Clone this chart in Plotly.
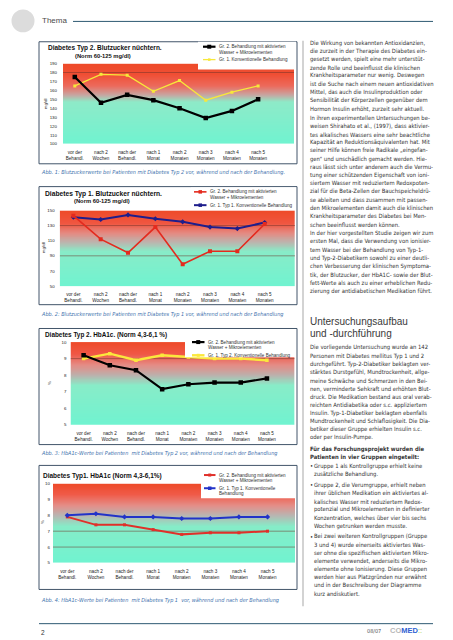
import plotly.graph_objects as go

W, H = 453, 640

# ---------------- data ----------------
categories = ["vor der<br>Behandl.", "nach 2<br>Wochen", "nach der<br>Behandl.", "nach 1<br>Monat",
              "nach 2<br>Monaten", "nach 3<br>Monaten", "nach 4<br>Monaten", "nach 5<br>Monaten"]

t2_bz_gr2 = [175, 146, 155, 149, 140, 129, 137, 150]
t2_bz_gr1 = [165, 178, 177, 159, 171, 149, 158, 165]
t1_bz_gr2 = [143, 112, 94, 128, 79, 96, 96, 132]
t1_bz_gr1 = [141, 138, 144, 139, 135, 128, 126, 134]
t2_hba_gr2 = [9.2, 8.6, 8.3, 7.15, 7.45, 7.55, 7.55, 7.8]
t2_hba_gr1 = [9.0, 9.3, 8.9, 9.2, 9.1, 9.0, 9.0, 8.9]
t1_hba_gr2 = [7.9, 7.4, 7.4, 7.1, 6.8, 6.9, 6.9, 7.0]
t1_hba_gr1 = [8.0, 8.1, 7.9, 7.9, 7.8, 7.8, 7.9, 7.9]

titles = ["Diabetes Typ 2. Blutzucker nüchtern.", "Diabetes Typ 1. Blutzucker nüchtern.",
          "Diabetes Typ 2. HbA1c. (Norm 4,3-6,1 %)", "Diabetes Typ1. HbA1c (Norm 4,3-6,1%)"]
captions = [
    "Abb. 1: Blutzuckerwerte bei Patienten mit Diabetes Typ 2 vor, während und nach der Behandlung.",
    "Abb. 2: Blutzuckerwerte bei Patienten mit Diabetes Typ 1 vor, während und nach der Behandlung",
    "Abb. 3: HbA1c-Werte bei Patienten  mit Diabetes Typ 2 vor, während und nach der Behandlung",
    "Abb. 4: HbA1c-Werte bei Patienten  mit Diabetes Typ 1  vor, während und nach der Behandlung",
]

P1 = ["Die Wirkung von bekannten Antioxidanzien,",
      "die zurzeit in der Therapie des Diabetes ein-",
      "gesetzt werden, spielt eine mehr unterstüt-",
      "zende Rolle und beeinflusst die klinischen",
      "Krankheitsparameter nur wenig. Deswegen",
      "ist die Suche nach einem neuen antioxidativen",
      "Mittel, das auch die Insulinproduktion oder",
      "Sensibilität der Körperzellen gegenüber dem",
      "Hormon Insulin erhöht, zurzeit sehr aktuell."]
P2 = ["In ihren experimentellen Untersuchungen be-",
      "weisen Shirahato et al., (1997), dass aktivier-",
      "tes alkalisches Wassers eine sehr beachtliche",
      "Kapazität an Reduktionsäquivalenten hat. Mit",
      "seiner Hilfe können freie Radikale „eingefan-",
      "gen“ und unschädlich gemacht werden. Hie-",
      "raus lässt sich unter anderem auch die Vermu-",
      "tung einer schützenden Eigenschaft von ioni-",
      "siertem Wasser mit reduziertem Redoxpoten-",
      "zial für die Beta-Zellen der Bauchspeicheldrü-",
      "se ableiten und dass zusammen mit passen-",
      "den Mikroelementen damit auch die klinischen",
      "Krankheitsparameter des Diabetes bei Men-",
      "schen beeinflusst werden können."]
P3 = ["In der hier vorgestellten Studie zeigen wir zum",
      "ersten Mal, dass die Verwendung von ionisier-",
      "tem Wasser bei der Behandlung von Typ-1-",
      "und Typ-2-Diabetikern sowohl zu einer deutli-",
      "chen Verbesserung der klinischen Symptoma-",
      "tik, der Blutzucker, der HbA1C- sowie der Blut-",
      "fett-Werte als auch zu einer erheblichen Redu-",
      "zierung der antidiabetischen Medikation führt."]
HEAD = ["Untersuchungsaufbau", "und -durchführung"]
P4 = ["Die vorliegende Untersuchung wurde an 142",
      "Personen mit Diabetes mellitus Typ 1 und 2",
      "durchgeführt. Typ-2-Diabetiker beklagten ver-",
      "stärktes Durstgefühl, Mundtrockenheit, allge-",
      "meine Schwäche und Schmerzen in den Bei-",
      "nen, verminderte Sehkraft und erhöhten Blut-",
      "druck. Die Medikation bestand aus oral verab-",
      "reichten Antidiabetika oder s.c. appliziertem",
      "Insulin. Typ-1-Diabetiker beklagten ebenfalls",
      "Mundtrockenheit und Schlaflosigkeit. Die Dia-",
      "betiker dieser Gruppe erhielten Insulin s.c.",
      "oder per Insulin-Pumpe."]
BOLD = ["Für das Forschungsprojekt wurden die", "Patienten in vier Gruppen eingeteilt:"]
B1 = ["Gruppe 1 als Kontrollgruppe erhielt keine", "zusätzliche Behandlung."]
B2 = ["Gruppe 2, die Verumgruppe, erhielt neben", "ihrer üblichen Medikation ein aktiviertes al-",
      "kalisches Wasser mit reduziertem Redox-", "potenzial und Mikroelementen in definierter",
      "Konzentration, welches über vier bis sechs", "Wochen getrunken werden musste."]
B3 = ["Bei zwei weiteren Kontrollgruppen (Gruppe", "3 und 4) wurde einerseits aktiviertes Was-",
      "ser ohne die spezifischen aktivierten Mikro-", "elemente verwendet, anderseits die Mikro-",
      "elemente ohne Ionisierung. Diese Gruppen", "werden hier aus Platzgründen nur erwähnt",
      "und in der Beschreibung der Diagramme", "kurz andiskutiert."]


# ---------------- helpers ----------------
def px(x):
    return x / W


def py(y):
    return 1 - y / H


TXT = "DejaVu Sans Condensed"
ARIAL = "Liberation Sans"
AQUA = '#70f3d0'
RED = '#ee4a28'

charts = [
    dict(box=(31, 32, 289, 155), plot=(55, 54, 286, 135), yr=(100, 190), dtick=10, xr=(-0.45, 8.37),
         series=[(t2_bz_gr1, '#f7e83a', 1.3, 'square', 3), (t2_bz_gr2, '#000000', 2.2, 'square', 4.5)],
         stops=[(190, RED), (178, '#f04e34'), (165, '#ec6a5c'), (155, '#c8a4a0'), (147, '#8eeac8'), (100, AQUA)],
         grid=[180], ytitle="mg/dl", ytpos=(37, 95), ystand=5, xstand=4,
         title=(38, 38, 6.5), sub=(94.5, 46.5),
         legbox=(190, 32, 288, 60),
         leg=[(37, '#000000', 2.2, 4, ["Gr. 2. Behandlung mit aktivierten", "Wasser + Mikroelementen"], 195, 209),
              (50, '#f7e83a', 1.3, 2.5, ["Gr. 1. Konventionelle Behandlung"], 195, 209)],
         cap=164),
    dict(box=(31, 178, 289, 297), plot=(51.7, 202, 287, 278.3), yr=(50, 150), dtick=20, xr=(-0.5, 8.11),
         series=[(t1_bz_gr1, '#1e1e8c', 2.0, 'diamond', 4), (t1_bz_gr2, '#e42a1e', 1.6, 'square', 4)],
         stops=[(150, RED), (133, '#f05640'), (120, '#e48a82'), (108, '#bcb4ae'), (96, '#88ecc8'), (50, AQUA)],
         grid=[130, 90], ytitle="mg/dl", ytpos=(35, 240), ystand=4, xstand=4,
         title=(35, 185, 6.7), sub=(93.5, 192.5),
         legbox=(183, 179, 288, 201),
         leg=[(183.3, '#e42a1e', 1.6, 3.5, ["Gr. 2. Behandlung mit aktivierten", "Wasser + Mikroelementen"], 186, 200),
              (196.7, '#1e1e8c', 2.0, 3.5, ["Gr. 1. Typ 1. Konventionelle Behandlung"], 186, 200)],
         cap=307),
    dict(box=(31, 321, 289, 438), plot=(62.5, 334.7, 286.7, 418), yr=(5, 10), dtick=1, xr=(-0.5, 8.06),
         series=[(t2_hba_gr1, '#fbe83c', 2.4, 'square', 3.5), (t2_hba_gr2, '#000000', 2.2, 'square', 4.5)],
         stops=[(10, RED), (9.3, '#f05644'), (8.6, '#e48c86'), (8.0, '#bcb0ac'), (7.4, '#88ecc8'), (5, AQUA)],
         grid=[9], ytitle="%", ytpos=(41, 376), ystand=3, xstand=5,
         title=(35, 327.5, 6.4), sub=None,
         legbox=(177, 322, 288, 350),
         leg=[(334.7, '#000000', 2.2, 4, ["Gr. 2. Behandlung mit aktivierten", "Wasser + Mikroelementen"], 184, 198),
              (348, '#fbe83c', 2.4, 3, ["Gr. 1. Typ 2. Konventionelle Behandlung"], 184, 198)],
         cap=447),
    dict(box=(31, 459, 289, 584), plot=(45, 477.3, 287, 557.3), yr=(5, 10), dtick=1, xr=(-0.5, 7.96),
         series=[(t1_hba_gr2, '#e0302a', 2.0, 'square', 3), (t1_hba_gr1, '#2233c8', 2.0, 'diamond', 4)],
         stops=[(10, RED), (9.3, '#f05a48'), (8.6, '#e48e88'), (8.0, '#bab4b0'), (7.3, '#86ecc8'), (5, AQUA)],
         grid=[7, 6], ytitle="%", ytpos=(35, 516), ystand=2, xstand=4,
         title=(33, 469.5, 6.5), sub=None,
         legbox=(193, 464, 288, 492),
         leg=[(468.7, '#e0302a', 2.0, 3, ["Gr. 2. Behandlung mit aktivierten", "Wasser + Mikroelementen"], 196, 209),
              (482, '#2233c8', 2.0, 3.5, ["Gr. 1. Typ 1. Konventionelle", "Behandlung"], 196, 209)],
         cap=595),
]

fig = go.Figure()
shapes = []
ann = []

for n, c in enumerate(charts, start=1):
    sfx = "" if n == 1 else str(n)
    l, t, r, b = c['plot']
    y0, y1 = c['yr']
    # smooth gradient background as a one-column heatmap
    N = 160
    edges = [y0 + (y1 - y0) * i / N for i in range(N + 1)]
    centers = [(edges[i] + edges[i + 1]) / 2 for i in range(N)]
    cs = [[(v - y0) / (y1 - y0), col] for v, col in sorted(c['stops'])]
    fig.add_trace(go.Heatmap(x=list(c['xr']), y=edges, z=[[v] for v in centers], zmin=y0, zmax=y1,
                             colorscale=cs, showscale=False, hoverinfo='skip', zsmooth=False,
                             xaxis='x' + sfx, yaxis='y' + sfx))
    for g in c['grid']:
        fig.add_trace(go.Scatter(x=list(c['xr']), y=[g, g], mode='lines',
                                 line=dict(color='rgba(110,50,40,0.5)', width=1),
                                 xaxis='x' + sfx, yaxis='y' + sfx, showlegend=False, hoverinfo='skip'))
    for vals, col, lw, sym, ms in c['series']:
        fig.add_trace(go.Scatter(x=list(range(len(categories))), y=vals, mode='lines+markers',
                                 line=dict(color=col, width=lw),
                                 marker=dict(symbol=sym, size=ms, color=col),
                                 xaxis='x' + sfx, yaxis='y' + sfx, showlegend=False, hoverinfo='skip'))
    fig.layout['xaxis' + sfx] = dict(domain=[px(l), px(r)], range=list(c['xr']), anchor='y' + sfx,
                                     tickvals=list(range(len(categories))), ticktext=categories,
                                     showgrid=False, zeroline=False, showline=False, ticks='',
                                     tickangle=0, ticklabelstandoff=int(c['xstand']),
                                     tickfont=dict(family=ARIAL, size=4.6, color='#222'), fixedrange=True)
    fig.layout['yaxis' + sfx] = dict(domain=[py(b), py(t)], range=list(c['yr']), anchor='x' + sfx,
                                     dtick=c['dtick'], tick0=c['yr'][0],
                                     showgrid=False, zeroline=False, showline=False, ticks='',
                                     ticklabelstandoff=int(c['ystand']),
                                     tickfont=dict(family=ARIAL, size=4.4, color='#222'), fixedrange=True)
    bx0, by0, bx1, by1 = c['box']
    shapes.append(dict(type='rect', xref='paper', yref='paper', x0=px(bx0), x1=px(bx1), y0=py(by1), y1=py(by0),
                       line=dict(color='#42556a', width=1), fillcolor='rgba(0,0,0,0)', layer='above'))
    lx0, ly0, lx1, ly1 = c['legbox']
    shapes.append(dict(type='rect', xref='paper', yref='paper', x0=px(lx0), x1=px(lx1), y0=py(ly1), y1=py(ly0),
                       line=dict(width=0), fillcolor='white', layer='above'))
    for ly, col, lw, ms, texts, sx0, tx in c['leg']:
        shapes.append(dict(type='line', xref='paper', yref='paper', x0=px(sx0), x1=px(tx - 1.5), y0=py(ly), y1=py(ly),
                           line=dict(color=col, width=lw), layer='above'))
        mx = (sx0 + tx - 1.5) / 2
        shapes.append(dict(type='rect', xref='paper', yref='paper', x0=px(mx - ms / 2), x1=px(mx + ms / 2),
                           y0=py(ly + ms / 2), y1=py(ly - ms / 2), fillcolor=col, line=dict(width=0), layer='above'))
        for k, tt in enumerate(texts):
            ann.append(dict(x=px(tx), y=py(ly + k * 5.4), xref='paper', yref='paper', text=tt, showarrow=False,
                            xanchor='left', yanchor='middle', font=dict(family=ARIAL, size=4.6, color='#333')))
    tx, ty, ts = c['title']
    ann.append(dict(x=px(tx), y=py(ty), xref='paper', yref='paper', text="<b>" + titles[n - 1] + "</b>",
                    showarrow=False, xanchor='left', yanchor='middle', font=dict(family=ARIAL, size=ts, color='#111')))
    if c['sub']:
        ann.append(dict(x=px(c['sub'][0]), y=py(c['sub'][1]), xref='paper', yref='paper',
                        text="<b>(Norm 60-125 mg/dl)</b>", showarrow=False, xanchor='center', yanchor='middle',
                        font=dict(family=ARIAL, size=5.8, color='#111')))
    ann.append(dict(x=px(c['ytpos'][0]), y=py(c['ytpos'][1]), xref='paper', yref='paper', text=c['ytitle'],
                    showarrow=False, textangle=-90, xanchor='center', yanchor='middle',
                    font=dict(family=ARIAL, size=4.4, color='#222')))
    ann.append(dict(x=px(31), y=py(c['cap']), xref='paper', yref='paper', text=captions[n - 1], showarrow=False,
                    xanchor='left', yanchor='middle',
                    font=dict(family=TXT, size=5.5, color='#4172ad', style='italic')))

# ---------------- header / footer ----------------
shapes.append(dict(type='circle', xref='paper', yref='paper', x0=px(3.5), x1=px(26.5), y0=py(22.5), y1=py(-0.5),
                   fillcolor='#dcdcdc', line=dict(width=0)))
shapes.append(dict(type='line', xref='paper', yref='paper', x0=px(65), x1=px(425), y0=py(11.5), y1=py(11.5),
                   line=dict(color='#2e5a72', width=1)))
ann.append(dict(x=px(32), y=py(11), xref='paper', yref='paper', text="Thema", showarrow=False,
                xanchor='left', yanchor='middle', font=dict(family=ARIAL, size=8, color='#4a4a4a')))
shapes.append(dict(type='line', xref='paper', yref='paper', x0=px(31), x1=px(425), y0=py(618.5), y1=py(618.5),
                   line=dict(color='#2e5a72', width=1)))
ann.append(dict(x=px(31), y=py(627), xref='paper', yref='paper', text="2", showarrow=False,
                xanchor='left', yanchor='middle', font=dict(family=ARIAL, size=6.5, color='#333')))
ann.append(dict(x=px(366), y=py(626), xref='paper', yref='paper', text="08/07", showarrow=False,
                xanchor='center', yanchor='middle', font=dict(family=TXT, size=5.5, color='#555')))
ann.append(dict(x=px(380), y=py(625.5), xref='paper', yref='paper',
                text="<span style='color:#b8b8b8'><b>CO</b></span><span style='color:#2f62d2'><b>MED</b></span><span style='color:#9cc84a'>::</span>",
                showarrow=False, xanchor='left', yanchor='middle', font=dict(family=ARIAL, size=7.5)))

# ---------------- right column ----------------
shapes.append(dict(type='line', xref='paper', yref='paper', x0=px(295), x1=px(295), y0=py(31), y1=py(601),
                   line=dict(color='#c4c4c4', width=1.5)))

STEP = 8.25
CX = 300
FS = 5.85


def add_lines(lines, y0, x=CX, bold=False, size=FS):
    for k, s in enumerate(lines):
        ann.append(dict(x=px(x), y=py(y0 + k * STEP), xref='paper', yref='paper',
                        text=("<b>" + s + "</b>") if bold else s, showarrow=False,
                        xanchor='left', yanchor='middle', font=dict(family=TXT, size=size, color='#333')))


add_lines(P1, 33.5)
add_lines(P2, 109)
add_lines(P3, 225.5)
ann.append(dict(x=px(CX), y=py(314), xref='paper', yref='paper', text=HEAD[0], showarrow=False,
                xanchor='left', yanchor='middle', font=dict(family=ARIAL, size=10, color='#3a3a3a')))
ann.append(dict(x=px(CX), y=py(326), xref='paper', yref='paper', text=HEAD[1], showarrow=False,
                xanchor='left', yanchor='middle', font=dict(family=ARIAL, size=10, color='#3a3a3a')))
add_lines(P4, 340.5)
add_lines(BOLD, 442.5, bold=True)
for blk, y0 in ((B1, 460), (B2, 479), (B3, 531)):
    ann.append(dict(x=px(CX - 0.5), y=py(y0), xref='paper', yref='paper', text="•", showarrow=False,
                    xanchor='left', yanchor='middle', font=dict(family=TXT, size=FS, color='#333')))
    add_lines(blk, y0, x=CX + 3.5)

fig.update_layout(width=W, height=H, margin=dict(l=0, r=0, t=0, b=0), autosize=False,
                  paper_bgcolor='white', plot_bgcolor='white', showlegend=False,
                  shapes=shapes, annotations=ann)

fig.write_html("out.html")
